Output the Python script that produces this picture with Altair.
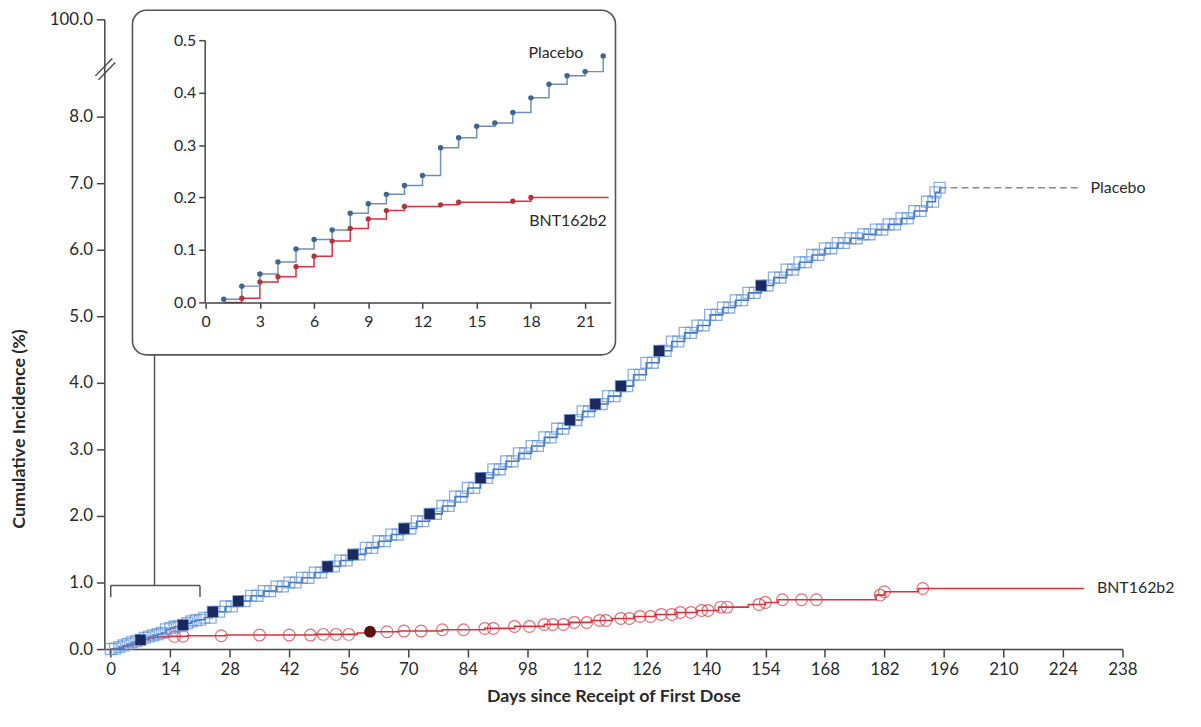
import altair as alt
import pandas as pd

# ---------------- data ----------------
# Placebo cumulative incidence (%) step points, main panel
plc_days = [0, 1, 2, 3, 4, 5, 6, 7, 8, 9, 10, 11, 12, 13, 14, 15, 16, 17, 18, 19, 20, 21, 22,
            24, 27, 30, 33, 36, 39, 42, 45, 48, 51, 54, 57, 60, 63, 66, 69, 72, 75, 78, 81, 84,
            87, 90, 93, 96, 99, 102, 105, 108, 111, 114, 117, 120, 123, 126, 129, 132, 135, 138,
            141, 144, 147, 150, 153, 156, 159, 162, 165, 168, 171, 174, 177, 180, 183, 186, 189,
            192, 194, 195]
plc_vals = [0, 0.006, 0.031, 0.054, 0.077, 0.102, 0.12, 0.138, 0.17, 0.188, 0.206, 0.223, 0.242,
            0.295, 0.314, 0.336, 0.342, 0.362, 0.39, 0.416, 0.432, 0.44, 0.47,
            0.56, 0.64, 0.72, 0.80, 0.87, 0.94, 1.00, 1.07, 1.15, 1.24, 1.33, 1.42, 1.52, 1.62,
            1.72, 1.81, 1.92, 2.03, 2.15, 2.29, 2.42, 2.57, 2.70, 2.82, 2.94, 3.05, 3.18, 3.31,
            3.44, 3.57, 3.68, 3.80, 3.95, 4.12, 4.30, 4.48, 4.62, 4.75, 4.86, 5.02, 5.13, 5.24,
            5.35, 5.46, 5.58, 5.70, 5.81, 5.92, 6.02, 6.10, 6.17, 6.23, 6.30, 6.38, 6.47, 6.58,
            6.72, 6.86, 6.93]
plc_dark_days = [7, 17, 24, 30, 51, 57, 69, 75, 87, 108, 114, 120, 129, 153]
plc_dark_vals = [0.138, 0.362, 0.56, 0.72, 1.24, 1.42, 1.81, 2.03, 2.57, 3.44, 3.68, 3.95, 4.48, 5.46]
plc_tail_days = [195, 227.5]
plc_tail_vals = [6.93, 6.93]

# BNT162b2 cumulative incidence (%) step points, main panel
bnt_days = [0, 2, 3, 4, 5, 6, 7, 8, 9, 10, 11, 13, 14, 17, 18, 27, 48, 58, 61, 68, 78, 88, 95,
            102, 108, 113, 118, 123, 128, 133, 138, 143, 150, 154, 157, 180, 182, 190, 229]
bnt_vals = [0, 0.01, 0.04, 0.05, 0.07, 0.09, 0.12, 0.14, 0.16, 0.175, 0.183, 0.186, 0.19, 0.193,
            0.2, 0.21, 0.22, 0.24, 0.26, 0.27, 0.29, 0.31, 0.34, 0.37, 0.40, 0.43, 0.46, 0.49,
            0.52, 0.55, 0.58, 0.63, 0.67, 0.70, 0.74, 0.81, 0.86, 0.91, 0.91]
bnt_cens_days = [15, 17, 26, 35, 42, 47, 50, 53, 56, 65, 69, 73, 78, 83, 88, 90, 95, 98.5, 102,
                 104, 106.5, 109, 112, 115, 116.5, 120, 122, 124.5, 127, 129.5, 132, 134, 136.5,
                 139, 140.5, 143.5, 145, 152.5, 154, 158, 162.5, 166, 181, 182, 191]
bnt_cens_vals = [0.19, 0.193, 0.2, 0.21, 0.21, 0.21, 0.22, 0.22, 0.22, 0.26, 0.27, 0.27, 0.29,
                 0.29, 0.31, 0.31, 0.34, 0.34, 0.37, 0.37, 0.37, 0.40, 0.40, 0.43, 0.43, 0.46,
                 0.46, 0.49, 0.49, 0.52, 0.52, 0.55, 0.55, 0.58, 0.58, 0.63, 0.63, 0.67, 0.70,
                 0.74, 0.74, 0.74, 0.81, 0.86, 0.91]
bnt_dark_days = [61]
bnt_dark_vals = [0.26]

# Inset (first 22 days)
inset_plc_days = [1, 2, 3, 4, 5, 6, 7, 8, 9, 10, 11, 12, 13, 14, 15, 16, 17, 18, 19, 20, 21, 22]
inset_plc_vals = [0.006, 0.031, 0.054, 0.077, 0.102, 0.12, 0.138, 0.17, 0.188, 0.206, 0.223,
                  0.242, 0.295, 0.314, 0.336, 0.342, 0.362, 0.39, 0.416, 0.432, 0.44, 0.47]
inset_bnt_days = [1, 2, 3, 4, 5, 6, 7, 8, 9, 10, 11, 13, 14, 17, 18, 22.3]
inset_bnt_vals = [0.0, 0.008, 0.039, 0.049, 0.068, 0.088, 0.117, 0.141, 0.159, 0.175, 0.183,
                  0.186, 0.191, 0.193, 0.2, 0.2]
inset_bnt_mark_days = [2, 3, 4, 5, 6, 7, 8, 9, 10, 11, 13, 14, 17, 18]
inset_bnt_mark_vals = [0.008, 0.039, 0.049, 0.068, 0.088, 0.117, 0.141, 0.159, 0.175, 0.183,
                       0.186, 0.191, 0.193, 0.2]

x_ticks_main = list(range(0, 239, 14))
y_ticks_main = [0, 1, 2, 3, 4, 5, 6, 7, 8]
y_top_value = 9.46          # position of the "100.0" label above the axis break
x_ticks_inset = [0, 3, 6, 9, 12, 15, 18, 21]
y_ticks_inset = [0, 0.1, 0.2, 0.3, 0.4, 0.5]

# ---------------- style ----------------
FONT = "Lato"
RED = "#d9333f"
BLUE_LINE = "#3f72c2"
BLUE_MARK = "#5b8fd8"
NAVY = "#1b2a5e"
DARKRED = "#5a1414"
AXIS = "#444444"
TXT = "#2a2a2a"

W, H = 1025, 634

main_xs = alt.Scale(domain=[-1.5, 238], nice=False, zero=False)
main_ys = alt.Scale(domain=[0, y_top_value], nice=False, zero=False)
main_xa = alt.Axis(values=x_ticks_main, title="Days since Receipt of First Dose", grid=False,
                   labelFont=FONT, labelFontSize=17, labelColor=TXT, labelFlush=False,
                   labelPadding=5, tickSize=8, tickColor=AXIS, tickWidth=1.5,
                   domainColor=AXIS, domainWidth=1.5, titleFont=FONT, titleFontSize=18,
                   titleFontWeight="bold", titleColor=TXT, titlePadding=10)
main_ya = alt.Axis(values=y_ticks_main + [y_top_value],
                   labelExpr="datum.value > 9 ? '100.0' : format(datum.value, '.1f')",
                   title="Cumulative Incidence (%)", grid=False,
                   labelFont=FONT, labelFontSize=17, labelColor=TXT, labelPadding=4,
                   tickSize=8, tickColor=AXIS, tickWidth=1.5, domainColor=AXIS, domainWidth=1.5,
                   titleFont=FONT, titleFontSize=18, titleFontWeight="bold", titleColor=TXT,
                   titleX=-85, titleY=412, titleAngle=-90, titleAlign="center",
                   titleBaseline="middle")

ins_xs = alt.Scale(domain=[0, 22.4], range=[102, 509.5], nice=False, zero=False)
ins_ys = alt.Scale(domain=[0, 0.5], range=[285, 21], nice=False, zero=False)
ins_xa = alt.Axis(values=x_ticks_inset, orient="bottom", offset=-349, title=None, grid=False,
                  labelFont=FONT, labelFontSize=16, labelColor=TXT, labelFlush=False,
                  labelPadding=5, tickSize=6, tickColor=AXIS, tickWidth=1.5,
                  domainColor=AXIS, domainWidth=1.5, zindex=2)
ins_ya = alt.Axis(values=y_ticks_inset, format=".1f", orient="left", offset=-101, title=None,
                  grid=False, labelFont=FONT, labelFontSize=16, labelColor=TXT, labelPadding=3,
                  tickSize=6, tickColor=AXIS, tickWidth=1.5, domainColor=AXIS, domainWidth=1.5,
                  zindex=2)


def mx(f="day"):
    return alt.X(f"{f}:Q", scale=main_xs, axis=main_xa)


def my(f="val"):
    return alt.Y(f"{f}:Q", scale=main_ys, axis=main_ya)


def ix(f="day"):
    return alt.X(f"{f}:Q", scale=ins_xs, axis=ins_xa)


def iy(f="val"):
    return alt.Y(f"{f}:Q", scale=ins_ys, axis=ins_ya)


plc = pd.DataFrame({"day": plc_days, "val": plc_vals})
plc_dark = pd.DataFrame({"day": plc_dark_days, "val": plc_dark_vals})
plc_tail = pd.DataFrame({"day": plc_tail_days, "val": plc_tail_vals})
bnt = pd.DataFrame({"day": bnt_days, "val": bnt_vals})
bnt_c = pd.DataFrame({"day": bnt_cens_days, "val": bnt_cens_vals})
bnt_d = pd.DataFrame({"day": bnt_dark_days, "val": bnt_dark_vals})
main_labels = pd.DataFrame({"day": [230.5, 232], "val": [plc_tail_vals[-1], bnt_vals[-1]],
                            "text": ["Placebo", "BNT162b2"]})

# ---------- main layers ----------
bnt_line = alt.Chart(bnt).mark_line(interpolate="step-after", color=RED, strokeWidth=1.6).encode(
    x=mx(), y=my())
bnt_pts = alt.Chart(bnt_c).mark_point(shape="circle", filled=False, color=RED, size=140,
                                      strokeWidth=1.2).encode(x=mx(), y=my())
bnt_dk = alt.Chart(bnt_d).mark_point(shape="circle", filled=True, color=DARKRED, size=140,
                                     opacity=1).encode(x=mx(), y=my())

plc_line = alt.Chart(plc).mark_line(interpolate="step-after", color=BLUE_LINE,
                                    strokeWidth=1.6).encode(x=mx(), y=my())
plc_pts = alt.Chart(plc).mark_point(shape="square", filled=False, color=BLUE_MARK, size=120,
                                    strokeWidth=1.3).encode(x=mx(), y=my())
plc_pts_mid = alt.Chart(plc).transform_filter("datum.day >= 22 && datum.day < 194").transform_calculate(
    mday="datum.day + 1.5").mark_point(shape="square", filled=False, color=BLUE_MARK, size=120,
                                       strokeWidth=1.3).encode(x=mx("mday"), y=my())
plc_dk = alt.Chart(plc_dark).mark_point(shape="square", filled=True, color=NAVY, size=110,
                                        opacity=1).encode(x=mx(), y=my())
plc_dash = alt.Chart(plc_tail).mark_line(color="#8a8a8a", strokeDash=[7, 4],
                                         strokeWidth=1.4).encode(x=mx(), y=my())
lbls = alt.Chart(main_labels).mark_text(align="left", baseline="middle", font=FONT,
                                        fontSize=16, color=TXT).encode(x=mx(), y=my(), text="text:N")

# bracket linking days 0-21 to the inset
br_h = pd.DataFrame({"day": [0], "day2": [21], "val": [0.955], "val2": [0.955]})
br_v = pd.DataFrame({"day": [0, 21], "val": [0.78, 0.78], "val2": [0.955, 0.955]})
br_up = pd.DataFrame({"day": [10.3], "val": [0.955], "val2": [4.42]})
bracket_h = alt.Chart(br_h).mark_rule(color="#555", strokeWidth=1.5).encode(
    x=mx(), x2="day2:Q", y=my(), y2="val2:Q")
bracket_v = alt.Chart(br_v).mark_rule(color="#555", strokeWidth=1.5).encode(
    x=mx(), y=my(), y2="val2:Q")
bracket_up = alt.Chart(br_up).mark_rule(color="#555", strokeWidth=1.5).encode(
    x=mx(), y=my(), y2="val2:Q")

# axis-break marks
brk = pd.DataFrame({"day": [-3.6, -2.9], "day2": [0.37, 1.07], "val": [8.61, 8.55],
                    "val2": [8.87, 8.81]})
brk_marks = alt.Chart(brk).mark_rule(color=AXIS, strokeWidth=1.4).encode(
    x=mx(), x2="day2:Q", y=my(), y2="val2:Q")

main = alt.layer(bracket_h, bracket_v, bracket_up, brk_marks, bnt_line, bnt_pts, bnt_dk,
                 plc_line, plc_dash, plc_pts, plc_pts_mid, plc_dk, lbls)

# ---------- inset layers ----------
box = pd.DataFrame({"day": [-4.05], "day2": [22.68], "val": [-0.100], "val2": [0.557]})
ins_box = alt.Chart(box).mark_rect(cornerRadius=14, fill="white", stroke="#555",
                                   strokeWidth=1.6).encode(x=ix(), x2="day2:Q", y=iy(), y2="val2:Q")
iplc = pd.DataFrame({"day": inset_plc_days, "val": inset_plc_vals})
ibnt = pd.DataFrame({"day": inset_bnt_days, "val": inset_bnt_vals})
ibnt_m = pd.DataFrame({"day": inset_bnt_mark_days, "val": inset_bnt_mark_vals})
ins_plc_line = alt.Chart(iplc).mark_line(interpolate="step-after", color="#6c8fc2",
                                         strokeWidth=1.5).encode(x=ix(), y=iy())
ins_plc_pts = alt.Chart(iplc).mark_point(shape="circle", filled=True, color="#3f6690", size=30,
                                         opacity=1).encode(x=ix(), y=iy())
ins_bnt_line = alt.Chart(ibnt).mark_line(interpolate="step-after", color=RED,
                                         strokeWidth=1.5).encode(x=ix(), y=iy())
ins_bnt_pts = alt.Chart(ibnt_m).mark_point(shape="circle", filled=True, color="#b3343a", size=28,
                                           opacity=1).encode(x=ix(), y=iy())
ins_lbl = pd.DataFrame({"day": [20.9, 22.2], "val": [0.475, 0.156], "text": ["Placebo", "BNT162b2"]})
ins_text = alt.Chart(ins_lbl).mark_text(align="right", baseline="middle", font=FONT,
                                        fontSize=16, color=TXT).encode(x=ix(), y=iy(), text="text:N")

inset = alt.layer(ins_box, ins_bnt_line, ins_plc_line, ins_bnt_pts, ins_plc_pts, ins_text)

chart = alt.layer(main, inset).resolve_scale(x="independent", y="independent").resolve_axis(
    x="independent", y="independent").properties(
    width=W, height=H, autosize=alt.AutoSizeParams(type="none"),
    padding={"left": 97, "top": 9, "right": 71, "bottom": 60},
    background="white").configure_view(strokeWidth=0)

chart.save("out.html", embed_options={"renderer": "svg", "actions": False})
